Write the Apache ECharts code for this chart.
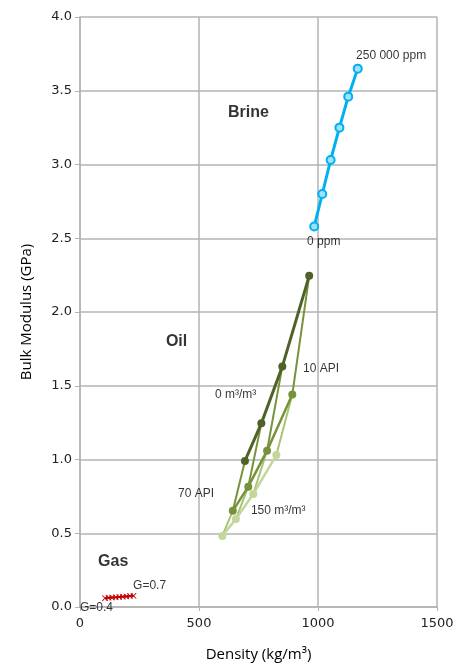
<!DOCTYPE html>
<html lang="en" style="height: 100%">
<head>
  <meta charset="utf-8">
</head>
<body style="height: 100%; margin: 0; background: #fff">
  <div id="container" style="height: 100%"></div>
  <script type="text/javascript" src="https://cdn.jsdelivr.net/npm/echarts@6/dist/echarts.min.js"></script>
  <script type="text/javascript">
// brine, 0 ppm -> 250 000 ppm
var brineDensity = [984, 1018, 1053, 1090, 1127, 1167];
var brineModulus = [2.58, 2.80, 3.03, 3.25, 3.46, 3.65];

// oil, points ordered 70, 50, 30, 10 API
var oilDensityGor0 = [693, 762, 850, 963];
var oilModulusGor0 = [0.99, 1.245, 1.63, 2.245];
var oilDensityGorMid = [642, 707, 786, 892];
var oilModulusGorMid = [0.652, 0.816, 1.06, 1.44];
var oilDensityGor150 = [598, 655, 728, 825];
var oilModulusGor150 = [0.482, 0.596, 0.766, 1.03];

// gas, G=0.4 -> G=0.7
var gasDensity = [105, 120, 135, 150, 165, 180, 195, 210, 225];
var gasModulus = [0.060, 0.062, 0.064, 0.066, 0.068, 0.070, 0.072, 0.074, 0.076];

var xTicks = [0, 500, 1000, 1500];
var yTicks = [0, 0.5, 1, 1.5, 2, 2.5, 3, 3.5, 4];

// annotations [text, density, modulus, bold]
var notes = [
  ['Brine', 622, 3.35, true],
  ['Oil', 361, 1.80, true],
  ['Gas', 76, 0.31, true],
  ['250 000 ppm', 1160, 3.74, false],
  ['0 ppm', 954, 2.475, false],
  ['10 API', 937, 1.614, false],
  ['0 m³/m³', 567, 1.437, false],
  ['70 API', 412, 0.766, false],
  ['150 m³/m³', 718, 0.651, false],
  ['G=0.7', 223, 0.142, false],
  ['G=0.4', 0, -0.005, false]
];

function pairs(xs, ys) {
  return xs.map(function (x, i) { return [x, ys[i]]; });
}

var cDark = '#4f6228', cMid = '#76923c', cLight = '#c3d69b';

var series = [];

// API lines across gas/oil ratio
for (var i = 0; i < 4; i++) {
  series.push({
    type: 'line', symbol: 'none', z: 2,
    lineStyle: { color: cMid, width: 2 },
    data: [[oilDensityGor0[i], oilModulusGor0[i]], [oilDensityGorMid[i], oilModulusGorMid[i]]]
  });
  series.push({
    type: 'line', symbol: 'none', z: 2,
    lineStyle: { color: '#a9c475', width: 2 },
    data: [[oilDensityGorMid[i], oilModulusGorMid[i]], [oilDensityGor150[i], oilModulusGor150[i]]]
  });
}

series.push({
  name: 'oil 150', type: 'line', z: 3, symbol: 'circle', symbolSize: 8,
  itemStyle: { color: cLight }, lineStyle: { color: cLight, width: 2.5 },
  data: pairs(oilDensityGor150, oilModulusGor150)
});
series.push({
  name: 'oil mid', type: 'line', z: 4, symbol: 'circle', symbolSize: 8,
  itemStyle: { color: cMid }, lineStyle: { color: cMid, width: 2.5 },
  data: pairs(oilDensityGorMid, oilModulusGorMid)
});
series.push({
  name: 'oil 0', type: 'line', z: 5, symbol: 'circle', symbolSize: 8,
  itemStyle: { color: cDark }, lineStyle: { color: cDark, width: 3 },
  data: pairs(oilDensityGor0, oilModulusGor0)
});

series.push({
  name: 'brine', type: 'line', z: 5, symbol: 'circle', symbolSize: 8,
  itemStyle: { color: '#9fe2fa', borderColor: '#00b0f0', borderWidth: 2 },
  lineStyle: { color: '#00b0f0', width: 3 },
  data: pairs(brineDensity, brineModulus)
});

series.push({
  name: 'gas', type: 'line', z: 5,
  symbol: 'path://M0,1L1,0L5,4L9,0L10,1L6,5L10,9L9,10L5,6L1,10L0,9L4,5Z',
  symbolSize: 6,
  itemStyle: { color: '#c00000' },
  lineStyle: { color: '#c00000', width: 2 },
  data: pairs(gasDensity, gasModulus)
});

series.push({
  type: 'scatter', z: 10, symbolSize: 0, clip: false, silent: true,
  data: notes.map(function (n) {
    return {
      value: [n[1], n[2]],
      label: {
        show: true, position: 'right', distance: 0,
        formatter: n[0],
        fontFamily: 'Liberation Sans, Arial, sans-serif',
        fontSize: n[3] ? 16 : 12,
        fontWeight: n[3] ? 'bold' : 'normal',
        color: '#000'
      }
    };
  })
});

var myChart = echarts.init(document.getElementById('container'), null, { renderer: 'canvas' });

var option = {
  backgroundColor: '#fff',
  animation: false,
  grid: { left: 80, right: 25, top: 17, bottom: 60 },
  xAxis: {
    type: 'value', min: xTicks[0], max: xTicks[xTicks.length - 1], interval: 500,
    name: 'Density (kg/m³)', nameLocation: 'middle', nameGap: 40,
    nameTextStyle: { fontFamily: 'Open Sans', fontSize: 15, color: '#000' },
    axisLine: { show: true, lineStyle: { color: '#b3b3b3', width: 1.5 } },
    axisTick: { show: true, length: 4, lineStyle: { color: '#b3b3b3' } },
    axisLabel: {
      fontFamily: 'DejaVu Sans', fontSize: 13, color: '#222', margin: 10,
      formatter: function (v) { return String(v); }
    },
    splitLine: { show: true, lineStyle: { color: '#b3b3b3', width: 1.5 } }
  },
  yAxis: {
    type: 'value', min: yTicks[0], max: yTicks[yTicks.length - 1], interval: 0.5,
    name: 'Bulk Modulus (GPa)', nameLocation: 'middle', nameGap: 46,
    nameTextStyle: { fontFamily: 'Open Sans', fontSize: 15, color: '#000' },
    axisLine: { show: true, lineStyle: { color: '#b3b3b3', width: 1.5 } },
    axisTick: { show: true, length: 5, lineStyle: { color: '#b3b3b3' } },
    axisLabel: {
      fontFamily: 'DejaVu Sans', fontSize: 13, color: '#222', margin: 8,
      formatter: function (v) { return v.toFixed(1); }
    },
    splitLine: { show: true, lineStyle: { color: '#b3b3b3', width: 1.5 } }
  },
  series: series
};

myChart.setOption(option);
window.addEventListener('resize', myChart.resize);
  </script>
</body>
</html>
